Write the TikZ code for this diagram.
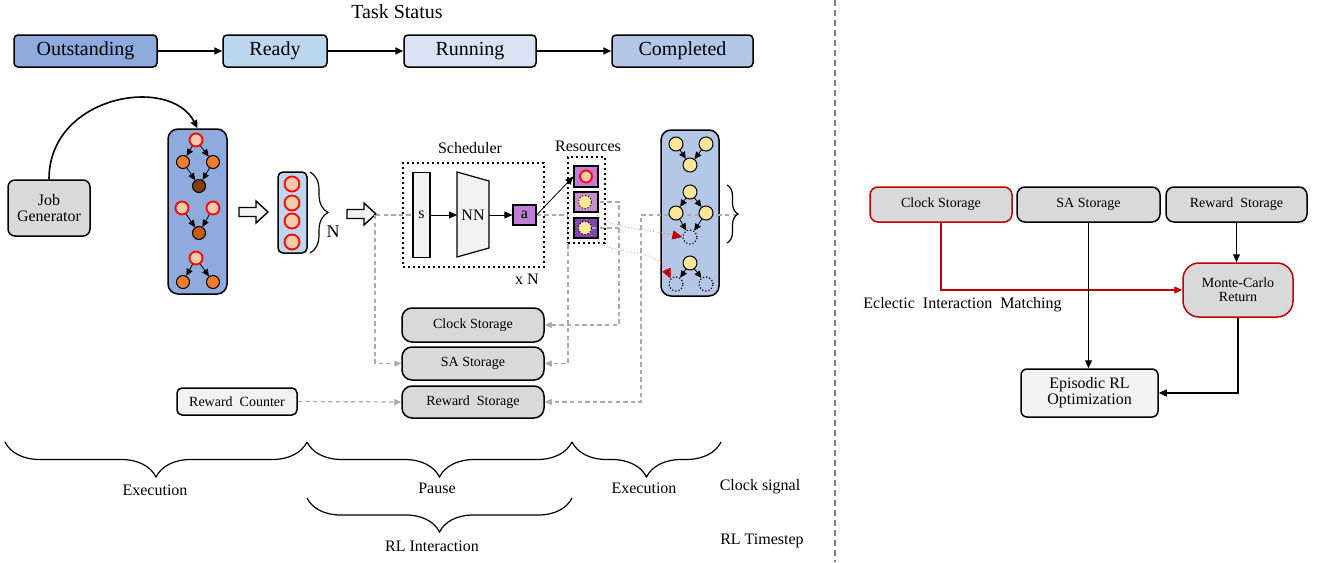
\documentclass[tikz,border=0pt]{standalone}
\usepackage{fontspec}
\setmainfont{Liberation Serif}
\usetikzlibrary{arrows.meta,decorations.pathreplacing,calc}

\definecolor{cOut}{HTML}{8FAADC}
\definecolor{cReady}{HTML}{BDD7EE}
\definecolor{cRun}{HTML}{DAE3F3}
\definecolor{cComp}{HTML}{B4C7E7}
\definecolor{cPeach}{HTML}{F8CBAD}
\definecolor{cOrange}{HTML}{ED7D31}
\definecolor{cDark}{HTML}{843C0C}
\definecolor{cBrown}{HTML}{C55A11}
\definecolor{cYellow}{HTML}{FFE699}
\definecolor{cGray}{HTML}{D9D9D9}
\definecolor{cLight}{HTML}{F2F2F2}
\definecolor{cRed}{HTML}{C00000}
\definecolor{cA}{HTML}{BF7FD3}
\definecolor{cR1}{HTML}{C27BD6}
\definecolor{cR2}{HTML}{C48ECF}
\definecolor{cR3}{HTML}{8246B0}
\definecolor{cDash}{HTML}{ABABAB}
\definecolor{cRedDot}{HTML}{F08080}

\tikzset{
  fs/.style={font=\fontsize{#1}{#1}\selectfont},
  tbox/.style={draw, line width=0.75pt, rounded corners=2pt, minimum height=16pt, inner sep=0pt, fs=10},
  tarrow/.style={line width=0.8pt, -{Triangle[length=4pt,width=3.5pt]}},
  sbox/.style={draw, line width=0.75pt, rounded corners=5pt, fill=cGray, inner sep=0pt, fs=7},
  rc/.style={circle, draw=red, line width=0.9pt, fill=cPeach, minimum size=6.5pt, inner sep=0pt},
  oc/.style={circle, draw=black, line width=0.5pt, fill=#1, minimum size=6.5pt, inner sep=0pt},
  yc/.style={circle, draw=black, line width=0.5pt, fill=cYellow, minimum size=7pt, inner sep=0pt},
  ec/.style={circle, draw=black, densely dotted, line width=0.6pt, minimum size=7pt, inner sep=0pt},
  darr/.style={line width=0.4pt, -{Triangle[length=3.5pt,width=3.2pt]}},
  gdash/.style={draw=cDash, line width=0.6pt, dash pattern=on 2.2pt off 1.6pt},
  gtip/.style={-{Triangle[length=3.5pt,width=3pt,fill=cDash]}},
  reddot/.style={draw=cRedDot, line width=0.4pt, densely dotted, -{Triangle[length=5pt,width=4.5pt,fill=cRed,color=cRed]}},
  dotbox/.style={draw, line width=1.2pt, dash pattern=on 1.2pt off 1.3pt, inner sep=0pt},
  brc/.style={decorate, decoration={brace, amplitude=#1}, line width=0.6pt},
  blk/.style={line width=0.6pt, -{Triangle[length=4pt,width=3.5pt]}}
}

\begin{document}
\begin{tikzpicture}[x=0.5pt,y=-0.5pt]
\useasboundingbox (0,0) rectangle (1321,562);

% ---------------- Task status row
\node[fs=10] (ts) at (397,12) {Task Status};
\node[tbox, fill=cOut, minimum width=71.5pt] (out) at (85.5,51) {Outstanding};
\node[tbox, fill=cReady, minimum width=52pt] (ready) at (275,51) {Ready};
\node[tbox, fill=cRun, minimum width=66pt] (run) at (470,51) {Running};
\node[tbox, fill=cComp, minimum width=70.5pt] (comp) at (682.5,51) {Completed};
\draw[tarrow] (out) -- (ready);
\draw[tarrow] (ready) -- (run);
\draw[tarrow] (run) -- (comp);

% ---------------- Job generator and DAGs
\node[draw, line width=0.75pt, rounded corners=3.5pt, fill=cGray, minimum width=41pt, minimum height=28pt,
      align=center, inner sep=0pt, fs=8] (jg) at (49,208) {Job\\Generator};
\node[draw, line width=0.75pt, rounded corners=5pt, fill=cOut, minimum width=29.5pt, minimum height=82.5pt, inner sep=0pt] (dag1) at (197.5,211.5) {};
\draw[line width=0.8pt, -{Triangle[length=4pt,width=3.5pt]}] (jg.north) .. controls (49,95) and (170,75) .. (dag1.north);

\node[rc] (a1) at (196,140) {};
\node[oc=cOrange] (a2) at (183,162) {};
\node[oc=cOrange] (a3) at (213,162) {};
\node[oc=cDark] (a4) at (199,186) {};
\node[rc] (b1) at (182,208) {};
\node[rc] (b2) at (213,208) {};
\node[oc=cBrown] (b3) at (199,233) {};
\node[rc] (c1) at (196,258) {};
\node[oc=cOrange] (c2) at (183,282) {};
\node[oc=cOrange] (c3) at (213,282) {};
\draw[darr] (a1) -- (a2);
\draw[darr] (a1) -- (a3);
\draw[darr] (a2) -- (a4);
\draw[darr] (a3) -- (a4);
\draw[darr] (b1) -- (b3);
\draw[darr] (b2) -- (b3);
\draw[darr] (c1) -- (c2);
\draw[darr] (c1) -- (c3);

% block arrow 1
\draw[line width=0.7pt, fill=cLight] (239,207.5) -- (256,207.5) -- (256,201) -- (268,212) -- (256,223) -- (256,216.5) -- (239,216.5) -- cycle;

% queue box
\node[draw, line width=0.75pt, rounded corners=2.5pt, fill=cReady, minimum width=14.5pt, minimum height=40.5pt, inner sep=0pt] (q) at (292.5,212.5) {};
\node[rc, minimum size=7.5pt] (q1) at (292,184) {};
\node[rc, minimum size=7.5pt] (q2) at (292,203) {};
\node[rc, minimum size=7.5pt] (q3) at (292,221) {};
\node[rc, minimum size=7.5pt] (q4) at (292,242) {};
\draw[brc=9pt] (310,172) -- (310,253);
\node[fs=9] (nlab) at (333,232) {N};

% block arrow 2
\draw[line width=0.7pt, fill=cLight] (347,209.5) -- (364,209.5) -- (364,203) -- (376,214) -- (364,225) -- (364,218.5) -- (347,218.5) -- cycle;

% ---------------- dashed lines behind
\coordinate (j1) at (376,215);
\coordinate (j1b) at (375,215);
\coordinate (j2) at (568,215);
\draw[gdash] (j1) -- (413,215);

% storages (left)
\node[sbox, minimum width=71pt, minimum height=17pt] (cs) at (473,325) {Clock Storage};
\node[sbox, minimum width=71pt, minimum height=16.5pt] (sa) at (473,363.5) {SA Storage};
\node[sbox, minimum width=71pt, minimum height=16pt] (rs) at (473,402) {Reward~~Storage};
\node[draw, line width=0.75pt, rounded corners=2.5pt, fill=cLight, minimum width=60pt, minimum height=13.5pt, inner sep=0pt, fs=7] (rc) at (237,401.5) {Reward~~Counter};

\draw[gdash, gtip] (j1b) |- (sa.west);

% scheduler
\node[dotbox, minimum width=70.5pt, minimum height=52pt] (sch) at (473.5,215) {};
\node[fs=8] (schl) at (470,148) {Scheduler};
\node[fs=8] (xn) at (527,279) {x N};
\node[draw, line width=0.6pt, fill=cLight, minimum width=8.5pt, minimum height=42.5pt, inner sep=0pt, fs=8] (s) at (421.5,215) {s};
\draw[line width=0.6pt, fill=cLight] (457,172) -- (489,181) -- (489,248) -- (457,257) -- cycle;
\node[fs=8] (nn) at (473,215) {NN};
\coordinate (nnW) at (457,215);
\coordinate (nnE) at (489,215);
\node[draw, line width=0.6pt, fill=cA, minimum width=11.5pt, minimum height=10pt, inner sep=0pt, fs=8] (a) at (524.5,215) {a};
\draw[line width=0.4pt, -{Triangle[length=4pt,width=3.5pt]}] (s.east) -- (nnW);
\draw[line width=0.4pt, -{Triangle[length=4pt,width=3.5pt]}] (nnE) -- (a.west);

% a dashed to SA storage (passes behind resources)
\draw[gdash, gtip] (a.east) -- (j2) |- (sa.east);

% resources
\node[fs=8] (resl) at (588,146) {Resources};
\node[dotbox, fill=white, minimum width=18.5pt, minimum height=43pt] (res) at (586.5,200) {};
\node[draw, line width=0.7pt, fill=cR1, minimum width=12pt, minimum height=10.5pt, inner sep=0pt] (sq1) at (586,176.5) {};
\node[draw, line width=0.7pt, fill=cR2, minimum width=12pt, minimum height=10pt, inner sep=0pt] (sq2) at (586,202) {};
\node[draw, line width=0.7pt, fill=cR3, minimum width=12pt, minimum height=10pt, inner sep=0pt] (sq3) at (586,228) {};
\node[rc, minimum size=6pt] (r1) at (586,176.5) {};
\node[yc, densely dotted, minimum size=6.5pt] (r2) at (585,202) {};
\node[yc, densely dotted, minimum size=6.5pt] (r3) at (585,228) {};
\draw[line width=0.4pt, -{Triangle[length=4pt,width=3.5pt]}] (a.east) -- (sq1.west);

\coordinate (j3) at (619,202);
\coordinate (j4) at (619,228);
\draw[gdash, gtip] (r2.east) -- (j3) |- (cs.east);
\draw[gdash] (r3.east) -- (j4);

% right DAG
\node[draw, line width=0.75pt, rounded corners=5pt, fill=cComp, minimum width=29pt, minimum height=83pt, inner sep=0pt] (dag2) at (690,213) {};
\coordinate (j5) at (737,215);
\coordinate (j6) at (641,215);
\draw[gdash, gtip] (j5) -- (j6) |- (rs.east);
\draw[gdash, gtip] (rc.east) -- (rs.west);
\node[yc] (d1) at (676,144) {};
\node[yc] (d2) at (706,144) {};
\node[yc] (d3) at (690,165) {};
\node[yc] (e1) at (690,192) {};
\node[yc] (e2) at (676,213) {};
\node[yc] (e3) at (706,213) {};
\node[ec] (e4) at (690,237) {};
\node[yc] (f1) at (690,263) {};
\node[ec] (f2) at (676,284) {};
\node[ec] (f3) at (706,284) {};
\draw[darr] (d1) -- (d3);
\draw[darr] (d2) -- (d3);
\draw[darr] (e1) -- (e2);
\draw[darr] (e1) -- (e3);
\draw[darr] (e2) -- (e4);
\draw[darr] (e3) -- (e4);
\draw[darr] (f1) -- (f2);
\draw[darr] (f1) -- (f3);
\draw[brc=5.5pt] (727,185) -- (727,243);

% red dotted curves
\draw[reddot] (r2.south east) .. controls (600,228) and (640,228) .. (e4.west);
\draw[reddot] (r3.south east) .. controls (600,258) and (655,245) .. (f2.north west);

% ---------------- braces at bottom
\draw[brc=17.5pt] (307,442) -- (5,442);
\draw[brc=17.5pt] (572,442) -- (307,442);
\draw[brc=17.5pt] (721,442) -- (572,442);
\draw[brc=17pt] (572,498) -- (307,498);
\node[fs=8] (ex1) at (155,490) {Execution};
\node[fs=8] (pau) at (437,488) {Pause};
\node[fs=8] (ex2) at (644,488) {Execution};
\node[fs=8] (clk) at (760,487) {Clock signal};
\node[fs=8] (rli) at (432,546) {RL Interaction};
\node[fs=8] (rlt) at (762,541) {RL Timestep};

% divider
\draw[gray, line width=0.6pt, dash pattern=on 3pt off 2pt] (835,0) -- (835,562);

% ---------------- right panel
\node[sbox, draw=cRed, minimum width=71pt, minimum height=17.5pt, rounded corners=4pt] (cs2) at (941,204.5) {Clock Storage};
\node[sbox, minimum width=71.5pt, minimum height=17.5pt, rounded corners=4pt] (sa2) at (1088.5,204.5) {SA Storage};
\node[sbox, minimum width=70.5pt, minimum height=17.5pt, rounded corners=4pt] (rs2) at (1236.5,204.5) {Reward~~Storage};
\node[sbox, draw=cRed, minimum width=55pt, minimum height=27pt, rounded corners=8pt, align=center] (mc) at (1238,290) {Monte-Carlo\\Return};
\node[draw, line width=0.75pt, rounded corners=3pt, fill=cLight, minimum width=68.5pt, minimum height=24pt, inner sep=0pt, align=center, fs=8] (ep) at (1089.5,393) {Episodic RL\\Optimization};
\node[fs=8, anchor=west, inner sep=0pt] (eim) at (863,305) {Eclectic~~Interaction~~Matching};
\draw[blk, draw=cRed, -{Triangle[length=4pt,width=3.5pt,fill=cRed]}] (cs2.south) |- (mc.west);
\draw[blk] (sa2.south) -- (sa2.south |- ep.north);
\draw[blk] (rs2.south) -- (rs2.south |- mc.north);
\draw[blk] (mc.south) |- (ep.east);
\end{tikzpicture}
\end{document}
